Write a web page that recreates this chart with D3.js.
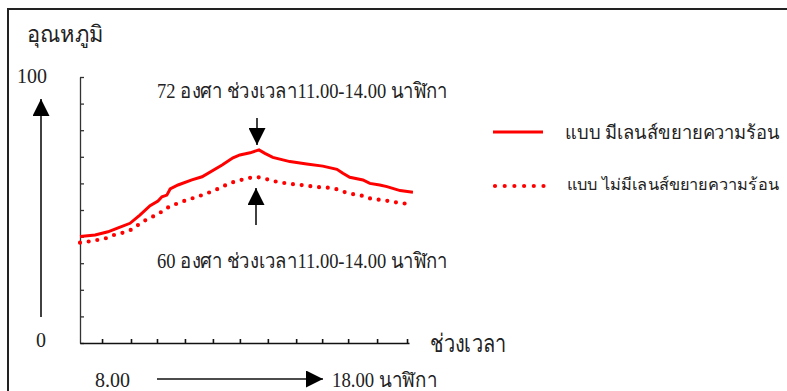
<!DOCTYPE html>
<html><head><meta charset="utf-8">
<script src="https://cdn.jsdelivr.net/npm/d3@7"></script>
<style>
html,body{margin:0;padding:0;background:#fff;}
text{font-family:"Liberation Serif","Times New Roman",serif;fill:#222;}
</style></head>
<body><svg id="c" width="787" height="391"></svg>
<script>
// Solid series: with heat-expanding lens (hours, temperature)
const solidHours = [8.00,8.46,8.85,9.16,9.52,9.82,10.13,10.37,10.49,10.64,10.74,10.98,11.40,11.71,12.32,12.65,12.86,13.17,13.44,13.62,13.86,14.38,14.89,15.38,15.81,15.99,16.20,16.60,16.81,17.11,17.33,17.73,18.12];
const solidTemps = [40.0,40.6,41.8,43.3,45.0,48.1,51.6,53.4,55.0,55.6,57.9,59.4,61.3,62.5,66.9,69.6,70.7,71.5,72.6,71.3,69.8,68.2,67.3,66.5,65.3,63.8,62.3,61.3,60.0,59.4,58.8,57.3,56.7];
// Dotted series: without lens
const dottedHours = [8.00,8.24,8.52,8.79,9.03,9.31,9.58,9.79,10.03,10.28,10.52,10.74,10.98,11.25,11.53,11.77,12.04,12.29,12.53,12.80,13.08,13.35,13.59,13.86,14.13,14.41,14.71,14.98,15.26,15.53,15.81,16.05,16.32,16.60,16.87,17.14,17.42,17.69,17.97];
const dottedTemps = [37.7,38.1,38.7,39.4,40.6,41.5,42.7,44.6,46.5,47.9,49.6,51.5,52.5,53.8,54.8,55.9,57.1,58.5,60.0,61.0,61.9,62.5,61.9,60.9,60.3,59.8,59.4,59.0,58.6,58.4,57.8,56.7,55.9,55.3,54.1,53.8,53.3,52.7,52.3];
const yTicks = [0,10,20,30,40,50,60,70,80,90,100];
const xTicks = [8.67,9.55,10.34,11.19,12.04,12.86,13.71,14.57,15.36,16.15,17.03,17.94];
const seriesNames = ["แบบ มีเลนส์ขยายความร้อน","แบบ ไม่มีเลนส์ขยายความร้อน"];
const yTitle = "อุณหภูมิ";
const xTitle = "ช่วงเวลา";
const topNote = "72 องศา ช่วงเวลา11.00-14.00 นาฬิกา";
const bottomNote = "60 องศา ช่วงเวลา11.00-14.00 นาฬิกา";
const startLabel = "8.00", endLabel = "18.00 นาฬิกา";

const svg = d3.select("#c");
const x = d3.scaleLinear().domain([8,18]).range([80,409]);
const y = d3.scaleLinear().domain([0,100]).range([343,77]);

// frame
svg.append("rect").attr("x",8).attr("y",9).attr("width",1000).attr("height",1000)
  .attr("fill","none").attr("stroke","#222").attr("stroke-width",2);

// marker
const defs = svg.append("defs");
defs.append("marker").attr("id","ah").attr("viewBox","0 0 10 10").attr("refX",10).attr("refY",5)
  .attr("markerUnits","userSpaceOnUse").attr("markerWidth",17).attr("markerHeight",17).attr("orient","auto")
  .append("path").attr("d","M0,0L10,5L0,10Z").attr("fill","#000");

// axes
const yAxis = d3.axisLeft(y).tickValues(yTicks).tickSizeInner(-4).tickSizeOuter(0).tickFormat("");
const gy = svg.append("g").attr("transform","translate(80,0)").call(yAxis);
gy.selectAll("path,line").attr("stroke","#333").attr("stroke-width",1.3);
const xAxis = d3.axisBottom(x).tickValues(xTicks).tickSizeInner(-4).tickSizeOuter(0).tickFormat("");
const gx = svg.append("g").attr("transform","translate(0,343)").call(xAxis);
gx.selectAll("path,line").attr("stroke","#111").attr("stroke-width",1.6);

// lines
const solid = solidHours.map((h,i)=>[h,solidTemps[i]]);
const dotted = dottedHours.map((h,i)=>[h,dottedTemps[i]]);
const line = d3.line().x(d=>x(d[0])).y(d=>y(d[1]));
svg.append("path").datum(solid).attr("d",line).attr("fill","none").attr("stroke","#ff0000").attr("stroke-width",3);
svg.append("path").datum(dotted).attr("d",line).attr("fill","none").attr("stroke","#ff0000")
  .attr("stroke-width",4.2).attr("stroke-linecap","round").attr("stroke-dasharray","0 8.75");

function fitText(sel, w){ return sel.attr("textLength",w).attr("lengthAdjust","spacingAndGlyphs"); }

// y-direction arrow and labels
svg.append("line").attr("x1",41).attr("y1",317).attr("x2",41).attr("y2",99)
  .attr("stroke","#111").attr("stroke-width",1.6).attr("marker-end","url(#ah)");
svg.append("text").attr("x",17).attr("y",83).attr("font-size",20).text("100");
svg.append("text").attr("x",36).attr("y",347).attr("font-size",20).text("0");
fitText(svg.append("text").attr("x",27).attr("y",42).attr("font-size",23).text(yTitle),76);
fitText(svg.append("text").attr("x",430).attr("y",352).attr("font-size",25).text(xTitle),76);

// annotations
fitText(svg.append("text").attr("x",157).attr("y",98).attr("font-size",21).text(topNote),291);
fitText(svg.append("text").attr("x",157).attr("y",268).attr("font-size",21).text(bottomNote),291);
svg.append("line").attr("x1",257).attr("y1",118).attr("x2",257).attr("y2",145)
  .attr("stroke","#111").attr("stroke-width",1.6).attr("marker-end","url(#ah)");
svg.append("line").attr("x1",256).attr("y1",225).attr("x2",256).attr("y2",188)
  .attr("stroke","#111").attr("stroke-width",1.6).attr("marker-end","url(#ah)");

// bottom time arrow
svg.append("text").attr("x",95).attr("y",387).attr("font-size",20).text(startLabel);
svg.append("line").attr("x1",157).attr("y1",379).attr("x2",323).attr("y2",379)
  .attr("stroke","#111").attr("stroke-width",1.6).attr("marker-end","url(#ah)");
fitText(svg.append("text").attr("x",332).attr("y",387).attr("font-size",20).text(endLabel),105);

// legend
const lg = svg.append("g");
lg.append("line").attr("x1",493).attr("x2",543).attr("y1",132).attr("y2",132).attr("stroke","#ff0000").attr("stroke-width",3);
lg.append("line").attr("x1",495).attr("x2",544).attr("y1",186).attr("y2",186).attr("stroke","#ff0000")
  .attr("stroke-width",4.2).attr("stroke-linecap","round").attr("stroke-dasharray","0 9.7");
fitText(lg.append("text").attr("x",565).attr("y",139).attr("font-size",18.5).text(seriesNames[0]),215);
fitText(lg.append("text").attr("x",567).attr("y",190).attr("font-size",16).text(seriesNames[1]),212);
</script></body></html>
